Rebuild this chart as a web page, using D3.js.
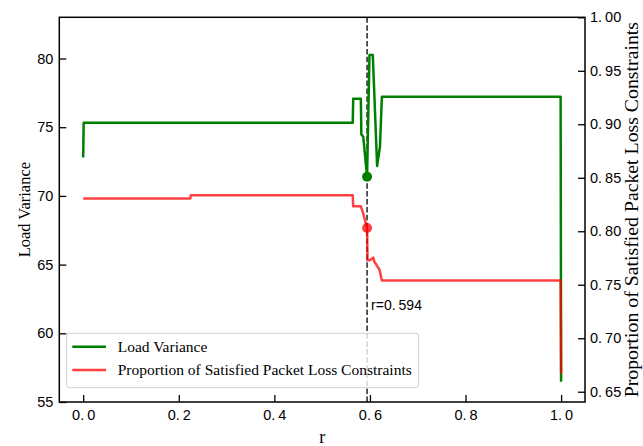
<!DOCTYPE html>
<html>
<head>
<meta charset="utf-8">
<script src="https://cdn.jsdelivr.net/npm/d3@7"></script>
<style>
  html, body { margin: 0; padding: 0; background: #fff; }
  svg { display: block; }
</style>
</head>
<body>
<svg id="chart" width="643" height="446"></svg>
<script>
// Load variance (left axis) as r varies
const greenR  = [0, 0.001, 0.564, 0.565, 0.581, 0.582, 0.586, 0.592, 0.594, 0.599, 0.606, 0.615, 0.621, 0.625, 0.999, 1.0];
const greenLV = [72.8, 75.33, 75.33, 77.07, 77.07, 74.48, 74.31, 72.13, 71.40, 80.25, 80.25, 72.18, 73.6, 77.22, 77.22, 56.48];

// Proportion of satisfied packet loss constraints (right axis)
const redR = [0, 0.224, 0.225, 0.564, 0.565, 0.581, 0.586, 0.594, 0.595, 0.599, 0.607, 0.609, 0.620, 0.625, 0.999, 1.0];
const redP = [0.8306, 0.8306, 0.8336, 0.8336, 0.8233, 0.8233, 0.8165, 0.8030, 0.7728, 0.7728, 0.7753, 0.7719, 0.7640, 0.7540, 0.7540, 0.6667];

// Selected operating point
const rStar = 0.594;
const rStarLV = 71.40;
const rStarP = 0.8030;

const xTicks = [0.0, 0.2, 0.4, 0.6, 0.8, 1.0];
const leftTicks = [55, 60, 65, 70, 75, 80];
const rightTicks = [0.65, 0.70, 0.75, 0.80, 0.85, 0.90, 0.95, 1.00];

const legendLabels = ["Load Variance", "Proportion of Satisfied Packet Loss Constraints"];
const GREEN = "#008000";
const RED = "rgb(255,64,64)";

const svg = d3.select("#chart");
const L = 59.3, R = 585, T = 17.3, B = 402;

const x = d3.scaleLinear().domain([-0.05, 1.05]).range([L, R]);
const yL = d3.scaleLinear().domain([55, 83]).range([B, T]);
const yR = d3.scaleLinear().domain([0.6404, 1.0]).range([B, T]);

const tickFont = "'Liberation Sans', Arial, sans-serif";
const serif = "'Liberation Serif', 'Times New Roman', serif";

// split decimal labels so the fractional part sits a little apart
function spacedLabel(sel) {
  sel.each(function () {
    const t = d3.select(this);
    const s = t.text();
    const i = s.indexOf(".");
    if (i < 0) return;
    t.text(null);
    t.append("tspan").text(s.slice(0, i + 1));
    t.append("tspan").attr("dx", 3).text(s.slice(i + 1));
  });
}

// axes
const gx = svg.append("g").attr("transform", `translate(0,${B})`)
  .call(d3.axisBottom(x).tickValues(xTicks).tickFormat(d3.format(".1f")).tickSizeInner(-7).tickSizeOuter(0).tickPadding(8));
const gl = svg.append("g").attr("transform", `translate(${L},0)`)
  .call(d3.axisLeft(yL).tickValues(leftTicks).tickFormat(d3.format("d")).tickSizeInner(-7).tickSizeOuter(0).tickPadding(6));
const gr = svg.append("g").attr("transform", `translate(${R},0)`)
  .call(d3.axisRight(yR).tickValues(rightTicks).tickFormat(d3.format(".2f")).tickSizeInner(-7).tickSizeOuter(0).tickPadding(5));

[gx, gl, gr].forEach(g => {
  g.select(".domain").remove();
  g.selectAll(".tick line").attr("stroke", "#000").attr("stroke-width", 1.3);
  g.selectAll(".tick text").attr("fill", "#000").attr("font-family", tickFont).attr("font-size", 14.5);
});
gx.selectAll(".tick text").call(spacedLabel);
gr.selectAll(".tick text").call(spacedLabel);

// dashed marker line at r*
svg.append("line")
  .attr("x1", x(rStar)).attr("x2", x(rStar)).attr("y1", T).attr("y2", B)
  .attr("stroke", "#222").attr("stroke-width", 1.5).attr("stroke-dasharray", "5.5,2.4");

// series lines
const lineG = d3.line().x(i => x(greenR[i])).y(i => yL(greenLV[i]));
const lineR = d3.line().x(i => x(redR[i])).y(i => yR(redP[i]));

svg.append("path").attr("d", lineG(d3.range(greenR.length)))
  .attr("fill", "none").attr("stroke", GREEN).attr("stroke-width", 2.5).attr("stroke-linejoin", "round");
svg.append("path").attr("d", lineR(d3.range(redR.length)))
  .attr("fill", "none").attr("stroke", "red").attr("stroke-opacity", 0.75).attr("stroke-width", 2.5).attr("stroke-linejoin", "round");

// highlighted points
svg.append("circle").attr("cx", x(rStar)).attr("cy", yL(rStarLV)).attr("r", 5).attr("fill", GREEN);
svg.append("circle").attr("cx", x(rStar)).attr("cy", yR(rStarP)).attr("r", 5).attr("fill", "red").attr("fill-opacity", 0.75);

// annotation
const ann = svg.append("text").attr("x", x(rStar) + 4).attr("y", 310)
  .attr("font-family", tickFont).attr("font-size", 14).attr("fill", "#000")
  .text("r=" + d3.format(".3f")(rStar));
ann.call(spacedLabel);

// frame
svg.append("rect").attr("x", L).attr("y", T).attr("width", R - L).attr("height", B - T)
  .attr("fill", "none").attr("stroke", "#000").attr("stroke-width", 1.5);

// legend
const lg = svg.append("g");
lg.append("rect").attr("x", 66.7).attr("y", 333.3).attr("width", 352).attr("height", 54.4).attr("rx", 3)
  .attr("fill", "#fff").attr("fill-opacity", 0.8).attr("stroke", "#d0d0d0").attr("stroke-width", 1);
[GREEN, RED].forEach((c, i) => {
  const yy = 346.7 + i * 23.3;
  lg.append("line").attr("x1", 72.3).attr("x2", 106).attr("y1", yy).attr("y2", yy)
    .attr("stroke", c).attr("stroke-width", 2.5);
  lg.append("text").attr("x", 117.7).attr("y", yy + 5).attr("font-family", serif).attr("font-size", 15.5)
    .attr("fill", "#000").text(legendLabels[i]);
});

// axis titles
svg.append("text").attr("x", (L + R) / 2).attr("y", 443).attr("text-anchor", "middle")
  .attr("font-family", serif).attr("font-size", 18).attr("fill", "#000").text("r");
svg.append("text").attr("transform", `translate(30,${(T + B) / 2}) rotate(-90)`).attr("text-anchor", "middle")
  .attr("font-family", serif).attr("font-size", 16.5).attr("fill", "#000").text("Load Variance");
svg.append("text").attr("transform", `translate(638,${(T + B) / 2}) rotate(-90)`).attr("text-anchor", "middle")
  .attr("font-family", serif).attr("font-size", 19.8).attr("fill", "#000").text("Proportion of Satisfied Packet Loss Constraints");
</script>
</body>
</html>
